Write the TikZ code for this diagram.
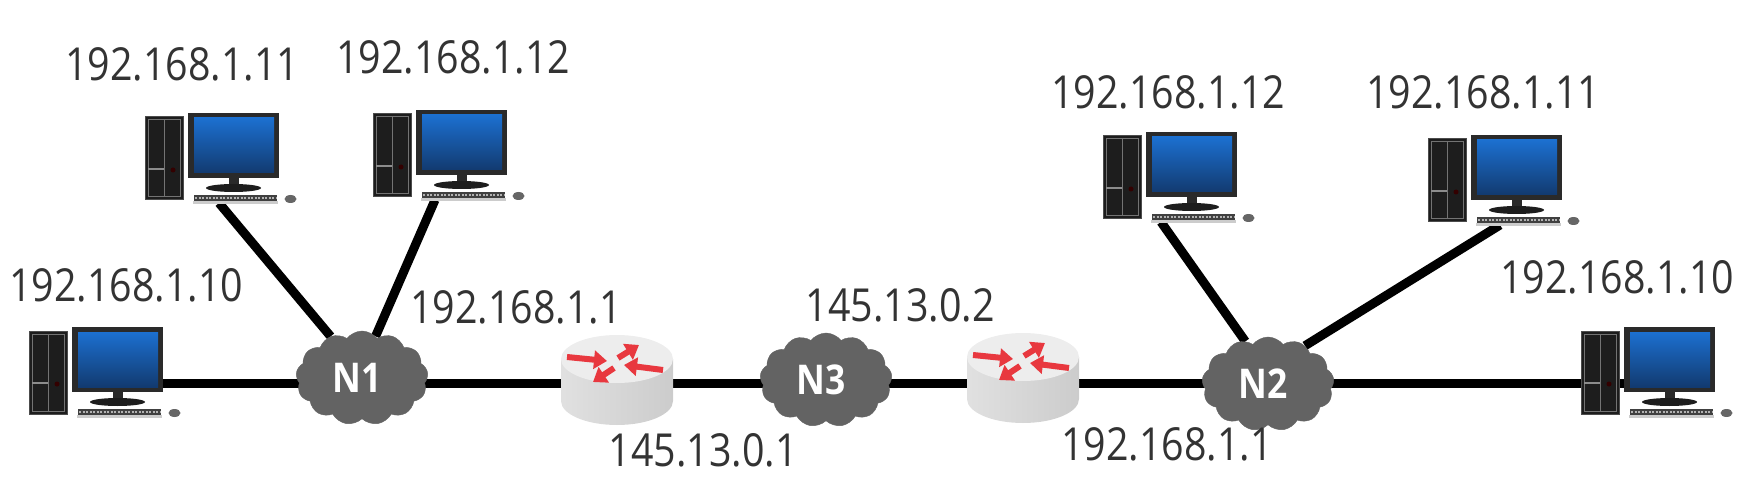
\documentclass[tikz,border=0pt]{standalone}
\usepackage{fontspec}
\setmainfont[FakeStretch=0.865]{Open Sans}
\usetikzlibrary{arrows.meta, backgrounds, shapes.symbols}
\definecolor{mytext}{RGB}{51,51,51}
\definecolor{mycloud}{RGB}{99,99,99}
\definecolor{myred}{RGB}{232,56,63}
\definecolor{mycase}{RGB}{29,29,29}
\definecolor{myframe}{RGB}{42,42,42}
\tikzset{
    iplabel/.style={font=\fontsize{45.5}{50}\selectfont, text=mytext, inner sep=0pt},
    netcloud/.style={cloud, cloud puffs=13, cloud puff arc=105, aspect=1.4, fill=mycloud, draw=mycloud,
        inner sep=0pt, minimum width=132pt, minimum height=94pt, text=white,
        font=\fontsize{41}{44}\selectfont\bfseries, execute at end node={\hspace{10pt}}},
    netlink/.style={line width=9pt, black},
    redarrow/.style={-{Triangle[width=18pt, length=13pt]}, line width=6pt, myred},
    pics/desktop/.style={code={
        % Tower
        \draw[fill=mycase, draw=black!70, line width=1pt] (0, 0) rectangle (38, 83);
        \draw[black!55, line width=1pt] (3, 3) rectangle (35, 80);
        \draw[black!55, line width=1pt] (19, 3) -- (19, 80);
        \draw[black!45, line width=1.2pt] (3, 52) -- (19, 52);
        \fill[black!80!red] (28, 53) circle (2.5pt);
        % Monitor
        \fill[myframe] (43, -4) rectangle (134, 61);
        \shade[top color={rgb,255:red,28;green,112;blue,208}, bottom color={rgb,255:red,18;green,58;blue,112}] (49, 1) rectangle (129, 56);
        \fill[myframe] (84, 61) rectangle (94, 68);
        \fill[mycase] (88.5, 71) ellipse (27.5pt and 4pt);
        % Keyboard and mouse
        \fill[black!20] (48, 84) rectangle (133, 87);
        \fill[black!75] (49, 78) rectangle (132, 84);
        \draw[black!30, line width=1.5pt, dash pattern=on 2pt off 1.5pt] (50, 81) -- (131, 81);
        \fill[black!60] (145.5, 82) ellipse (6pt and 4pt);
        % Where the wires come in
        \coordinate (-port) at (65, 86);
        \coordinate (-side) at (100, 52);
    }},
    pics/router/.style={code={
        % Body
        \shade[left color=black!12, middle color=black!25, right color=black!20]
            (-56, -21) -- (-56, 21) arc[start angle=180, end angle=360, x radius=56pt, y radius=24pt] -- (56, -21) -- cycle;
        \fill[black!7] (0, -21) ellipse (56pt and 24pt);
        % Arrows on the lid
        \draw[redarrow] (-50, -23) -- (-10, -19);
        \draw[redarrow] (1, -22) -- (22, -35);
        \draw[redarrow] (46, -10) -- (7, -15);
        \draw[redarrow] (-3, -12) -- (-24, 2);
        \node[inner sep=0pt, minimum width=112pt, minimum height=90pt] (-body) at (0, 0) {};
    }},
}

\begin{document}
\begin{tikzpicture}[x=1pt, y=-1pt]
    \useasboundingbox (0, 0) rectangle (1745, 494);

    % Computers
    \pic (pcA) at (29, 331) {desktop};
    \pic (pcB) at (145, 117) {desktop};
    \pic (pcC) at (373, 114) {desktop};
    \pic (pcD) at (1103, 136) {desktop};
    \pic (pcE) at (1428, 139) {desktop};
    \pic (pcF) at (1581, 331) {desktop};

    % Networks
    \node[netcloud] (n1) at (362, 378) {N1};
    \node[netcloud] (n3) at (826, 380) {N3};
    \node[netcloud] (n2) at (1268, 384) {N2};

    % Routers
    \pic (r1) at (617, 380) {router};
    \pic (r2) at (1023, 378) {router};

    % Addresses
    \node[iplabel] (ipA) at (126, 285) {192.168.1.10};
    \node[iplabel] (ipB) at (182, 64) {192.168.1.11};
    \node[iplabel] (ipC) at (453, 57) {192.168.1.12};
    \node[iplabel] (ipD) at (1168, 92) {192.168.1.12};
    \node[iplabel] (ipE) at (1483, 92) {192.168.1.11};
    \node[iplabel] (ipF) at (1617, 277) {192.168.1.10};
    \node[iplabel] (ipG) at (516, 307) {192.168.1.1};
    \node[iplabel] (ipH) at (703, 450) {145.13.0.1};
    \node[iplabel] (ipI) at (900, 305) {145.13.0.2};
    \node[iplabel] (ipJ) at (1167, 444) {192.168.1.1};

    % Wires, behind everything else
    \begin{scope}[on background layer]
        \foreach \from/\to in {pcA-side/n1, n1/r1-body, r1-body/n3, n3/r2-body, r2-body/n2, n2/pcF-side}
            \draw[netlink] (\from |- pcA-side) -- (\to |- pcA-side);
        \draw[netlink] ([xshift=9pt]pcB-port) -- (n1.127);
        \draw[netlink] ([xshift=-3pt]pcC-port) -- (n1.72);
        \draw[netlink] ([xshift=-7pt]pcD-port) -- (n2.118);
        \draw[netlink] ([xshift=7pt]pcE-port) -- (n2.46);
    \end{scope}
\end{tikzpicture}
\end{document}
